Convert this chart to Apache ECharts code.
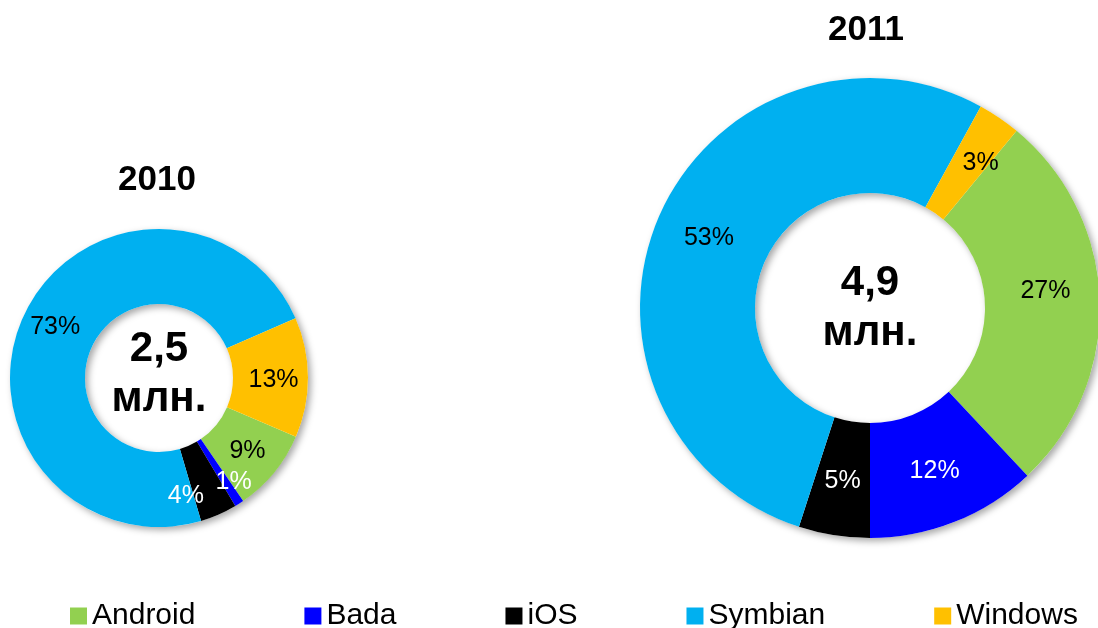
<!DOCTYPE html>
<html>
<head>
<meta charset="utf-8">
<script src="https://cdn.jsdelivr.net/npm/echarts@6/dist/echarts.min.js"></script>
<style>
html,body{margin:0;padding:0;background:#fff;}
#chart{width:1098px;height:628px;}
</style>
</head>
<body>
<div id="chart"></div>
<script>
// ---- data ----
const categories = ['Android', 'Bada', 'iOS', 'Symbian', 'Windows'];
const values2010 = [9, 1, 4, 73, 13];
const values2011 = [27, 12, 5, 53, 3];
const years = ['2010', '2011'];
const totals = ['2,5', '4,9'];
const unitLabel = 'млн.';

// ---- styles ----
const FONT = '"Liberation Sans", Arial, Helvetica, sans-serif';
const colors = { Android: '#92D050', Bada: '#0000FF', iOS: '#000000', Symbian: '#00B0F0', Windows: '#FFC000' };
const labelColors = { Android: '#000', Bada: '#fff', iOS: '#fff', Symbian: '#000', Windows: '#000' };
const pies = [
  { values: values2010, center: [159, 378], radius: [74, 149], startAngle: -23.2,
    labelOffsets: { Bada: [13, 8], iOS: [-19, 13], Windows: [0, 3], Symbian: [0, -3] }, centerOffset: [0, -4],
    title: [157, 180] },
  { values: values2011, center: [870, 308], radius: [115, 230], startAngle: 50.4,
    labelOffsets: { Windows: [12, 0], Android: [0, -11] }, centerOffset: [0, 0],
    title: [866, 30] }
];

const series = [];
const graphics = [];
pies.forEach((p, i) => {
  // shadow / center-text ring
  series.push({
    type: 'pie', silent: true, animation: false,
    center: p.center, radius: p.radius,
    label: {
      show: true, position: 'center',
      formatter: totals[i] + '\n' + unitLabel,
      fontFamily: FONT, fontSize: 42, fontWeight: 'bold', lineHeight: 50, color: '#000',
      offset: p.centerOffset
    },
    labelLine: { show: false },
    emphasis: { disabled: true },
    itemStyle: { color: '#ffffff', shadowColor: 'rgba(0,0,0,0.35)', shadowBlur: 7, shadowOffsetX: 3, shadowOffsetY: 3 },
    data: [{ name: '_bg' + i, value: 1 }]
  });
  series.push({
    type: 'pie', animation: false,
    center: p.center, radius: p.radius,
    startAngle: p.startAngle, clockwise: true,
    avoidLabelOverlap: false,
    emphasis: { disabled: true },
    label: {
      show: true, position: 'inside',
      formatter: (d) => d.value + '%',
      fontFamily: FONT, fontSize: 25
    },
    labelLine: { show: false },
    data: categories.map((c, k) => ({
      name: c, value: p.values[k],
      itemStyle: { color: colors[c] },
      label: { color: labelColors[c], offset: p.labelOffsets[c] || [0, 0] }
    }))
  });
  graphics.push({
    type: 'text', x: p.title[0], y: p.title[1],
    style: { text: years[i], font: 'bold 35px ' + FONT, fill: '#000', textAlign: 'center', textVerticalAlign: 'middle' }
  });
});

const chart = echarts.init(document.getElementById('chart'), null, { renderer: 'canvas' });
chart.setOption({
  backgroundColor: '#ffffff',
  animation: false,
  legend: {
    data: categories,
    icon: 'rect', itemWidth: 17, itemHeight: 17, itemGap: 109,
    left: 65, top: 596,
    selectedMode: false,
    textStyle: { fontFamily: FONT, fontSize: 30, color: '#000', lineHeight: 30 }
  },
  graphic: graphics,
  series: series
});
</script>
</body>
</html>
